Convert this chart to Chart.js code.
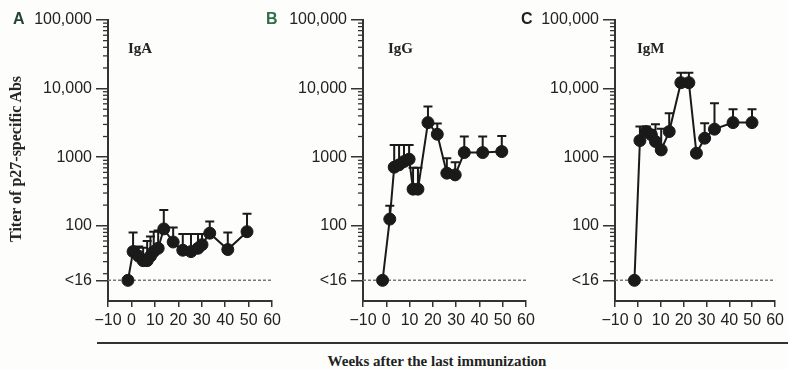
<!DOCTYPE html>
<html>
<head>
<meta charset="utf-8">
<script src="https://cdn.jsdelivr.net/npm/chart.js@4.4.1/dist/chart.umd.min.js"></script>
<style>
  body { margin: 0; background: #fdfdfc; width: 788px; height: 369px; overflow: hidden; position: relative; }
  canvas { position: absolute; top: 0; }
  .lbl { position: absolute; white-space: nowrap; }
  .letter { font: bold 16px "Liberation Sans", Arial, sans-serif; top: 10px; }
  .sub { font: bold 15px "Liberation Serif", "Times New Roman", serif; color: #222; top: 40px; }
  .serif { font: bold 15px "Liberation Serif", "Times New Roman", serif; color: #222; }
  #ytitle { left: 16px; top: 159px; transform: translate(-50%, -50%) rotate(-90deg); font-size: 16px; }
  #xtitle { left: 437px; top: 361px; transform: translate(-50%, -50%); }
  #baseline { position: absolute; left: 97px; top: 342px; width: 691px; height: 2px; background: #333; }
</style>
</head>
<body>
<canvas id="chartA" width="285" height="330" style="left:0px"></canvas>
<canvas id="chartB" width="284" height="330" style="left:255px"></canvas>
<canvas id="chartC" width="281" height="330" style="left:507px"></canvas>

<div class="lbl letter" style="left:13px;color:#22443a">A</div>
<div class="lbl letter" style="left:266px;color:#2e6e48">B</div>
<div class="lbl letter" style="left:521px;color:#222">C</div>
<div class="lbl sub" style="left:128px">IgA</div>
<div class="lbl sub" style="left:388px">IgG</div>
<div class="lbl sub" style="left:637px">IgM</div>
<div class="lbl serif" id="ytitle">Titer of p27-specific Abs</div>
<div id="baseline"></div>
<div class="lbl serif" id="xtitle">Weeks after the last immunization</div>

<script>
// weeks after the last immunization, titer, and top of the error bar
var weeksA = [-1.5, 0.7, 3.1, 5.0, 6.7, 8.1, 9.5, 11.4, 13.8, 17.8, 21.9, 25.4, 28.4, 30.1, 33.4, 41.1, 49.3];
var titerA = [16, 42, 36, 31, 31, 36, 42, 47, 90, 58, 44, 42, 47, 53, 78, 45, 82];
var upperA = [null, 80, 50, 48, 60, 70, 82, 85, 170, 94, 76, 76, 76, 76, 115, 80, 150];

var weeksB = [-1.6, 1.5, 3.4, 5.5, 7.6, 9.8, 11.5, 13.6, 17.9, 21.9, 26.0, 29.6, 33.5, 41.4, 49.6];
var titerB = [16, 125, 714, 773, 863, 935, 342, 342, 3190, 2160, 585, 552, 1166, 1166, 1206];
var upperB = [null, 195, 1510, 1510, 1510, 1510, 700, 700, 5460, 3100, 966, 845, 1995, 1995, 2040];

var weeksC = [-1.5, 0.9, 3.7, 5.9, 7.7, 10.2, 13.7, 18.8, 22.3, 25.6, 29.2, 33.5, 41.6, 49.9];
var titerC = [16, 1745, 2360, 2115, 1690, 1276, 2360, 12200, 12200, 1143, 1890, 2560, 3190, 3190];
var upperC = [null, 2790, 2790, 2500, 3020, 2600, 4370, 17000, 17000, null, 3130, 6110, 5000, 5000];

// detection limit line
var lodX = [-10, 60];
var lodY = [16, 16];

var yTicks = [16, 100, 1000, 10000, 100000];
var minorSteps = [2, 3, 4, 5, 6, 7, 8, 9];
var decades = [10, 100, 1000, 10000];

var ink = '#1a1a1a';

var errorBars = {
    id: 'errorBars',
    beforeDatasetsDraw: function (chart, args, opts) {
        var meta = chart.getDatasetMeta(0);
        var y = chart.scales.y;
        var ctx = chart.ctx;
        ctx.save();
        ctx.strokeStyle = ink;
        ctx.lineWidth = 2;
        for (var i = 0; i < opts.upper.length; i++) {
            if (opts.upper[i] == null) continue;
            var p = meta.data[i];
            var yc = y.getPixelForValue(opts.upper[i]);
            ctx.beginPath();
            ctx.moveTo(p.x, p.y);
            ctx.lineTo(p.x, yc);
            ctx.moveTo(p.x - 4.5, yc);
            ctx.lineTo(p.x + 4.5, yc);
            ctx.stroke();
        }
        ctx.restore();
    }
};

var minorTicks = {
    id: 'minorTicks',
    afterDraw: function (chart) {
        var y = chart.scales.y;
        var left = chart.chartArea.left;
        var ctx = chart.ctx;
        ctx.save();
        ctx.strokeStyle = '#333';
        ctx.lineWidth = 1.3;
        decades.forEach(function (d) {
            minorSteps.forEach(function (m) {
                var py = y.getPixelForValue(m * d);
                ctx.beginPath();
                ctx.moveTo(left - 5, py);
                ctx.lineTo(left, py);
                ctx.stroke();
            });
        });
        ctx.restore();
    }
};

function makeChart(id, weeks, titer, upper, padRight) {
    var pts = weeks.map(function (w, i) { return { x: w, y: titer[i] }; });
    var lod = lodX.map(function (x, i) { return { x: x, y: lodY[i] }; });
    return new Chart(document.getElementById(id), {
        type: 'line',
        data: {
            datasets: [
                {
                    data: pts,
                    borderColor: ink,
                    borderWidth: 2,
                    pointRadius: 6,
                    pointBackgroundColor: ink,
                    pointBorderColor: ink,
                    pointBorderWidth: 1,
                    tension: 0,
                    clip: false,
                    order: 0
                },
                {
                    data: lod,
                    borderColor: '#777',
                    borderWidth: 1.5,
                    borderDash: [3, 2],
                    pointRadius: 0,
                    clip: false,
                    order: 1
                }
            ]
        },
        options: {
            responsive: false,
            animation: false,
            layout: { padding: { top: 20, right: padRight, left: 0, bottom: 0 } },
            plugins: {
                legend: { display: false },
                tooltip: { enabled: false },
                errorBars: { upper: upper }
            },
            scales: {
                x: {
                    type: 'linear',
                    min: -10,
                    max: 60,
                    afterFit: function (s) { s.height = 29; },
                    ticks: {
                        stepSize: 10,
                        padding: 4,
                        color: '#222',
                        font: { family: 'Liberation Sans', size: 16 },
                        maxRotation: 0,
                        autoSkip: false,
                        callback: function (v) { return v < 0 ? '\u2212' + Math.abs(v) : String(v); }
                    },
                    grid: { drawOnChartArea: false, tickLength: 6, color: '#333', lineWidth: 1.5 },
                    border: { color: '#333', width: 2 }
                },
                y: {
                    type: 'logarithmic',
                    min: 8,
                    max: 100000,
                    afterFit: function (s) { s.width = 108; },
                    afterBuildTicks: function (s) {
                        s.ticks = yTicks.map(function (v) { return { value: v }; });
                    },
                    ticks: {
                        padding: 4,
                        color: '#222',
                        font: { family: 'Liberation Sans', size: 16 },
                        callback: function (v) {
                            if (v === 16) return '<16';
                            return v >= 10000 ? v.toLocaleString('en-US') : String(v);
                        }
                    },
                    grid: { drawOnChartArea: false, tickLength: 12, color: '#333', lineWidth: 1.5 },
                    border: { color: '#333', width: 2 }
                }
            }
        },
        plugins: [errorBars, minorTicks]
    });
}

makeChart('chartA', weeksA, titerA, upperA, 12);
makeChart('chartB', weeksB, titerB, upperB, 13);
makeChart('chartC', weeksC, titerC, upperC, 9);
</script>
</body>
</html>
